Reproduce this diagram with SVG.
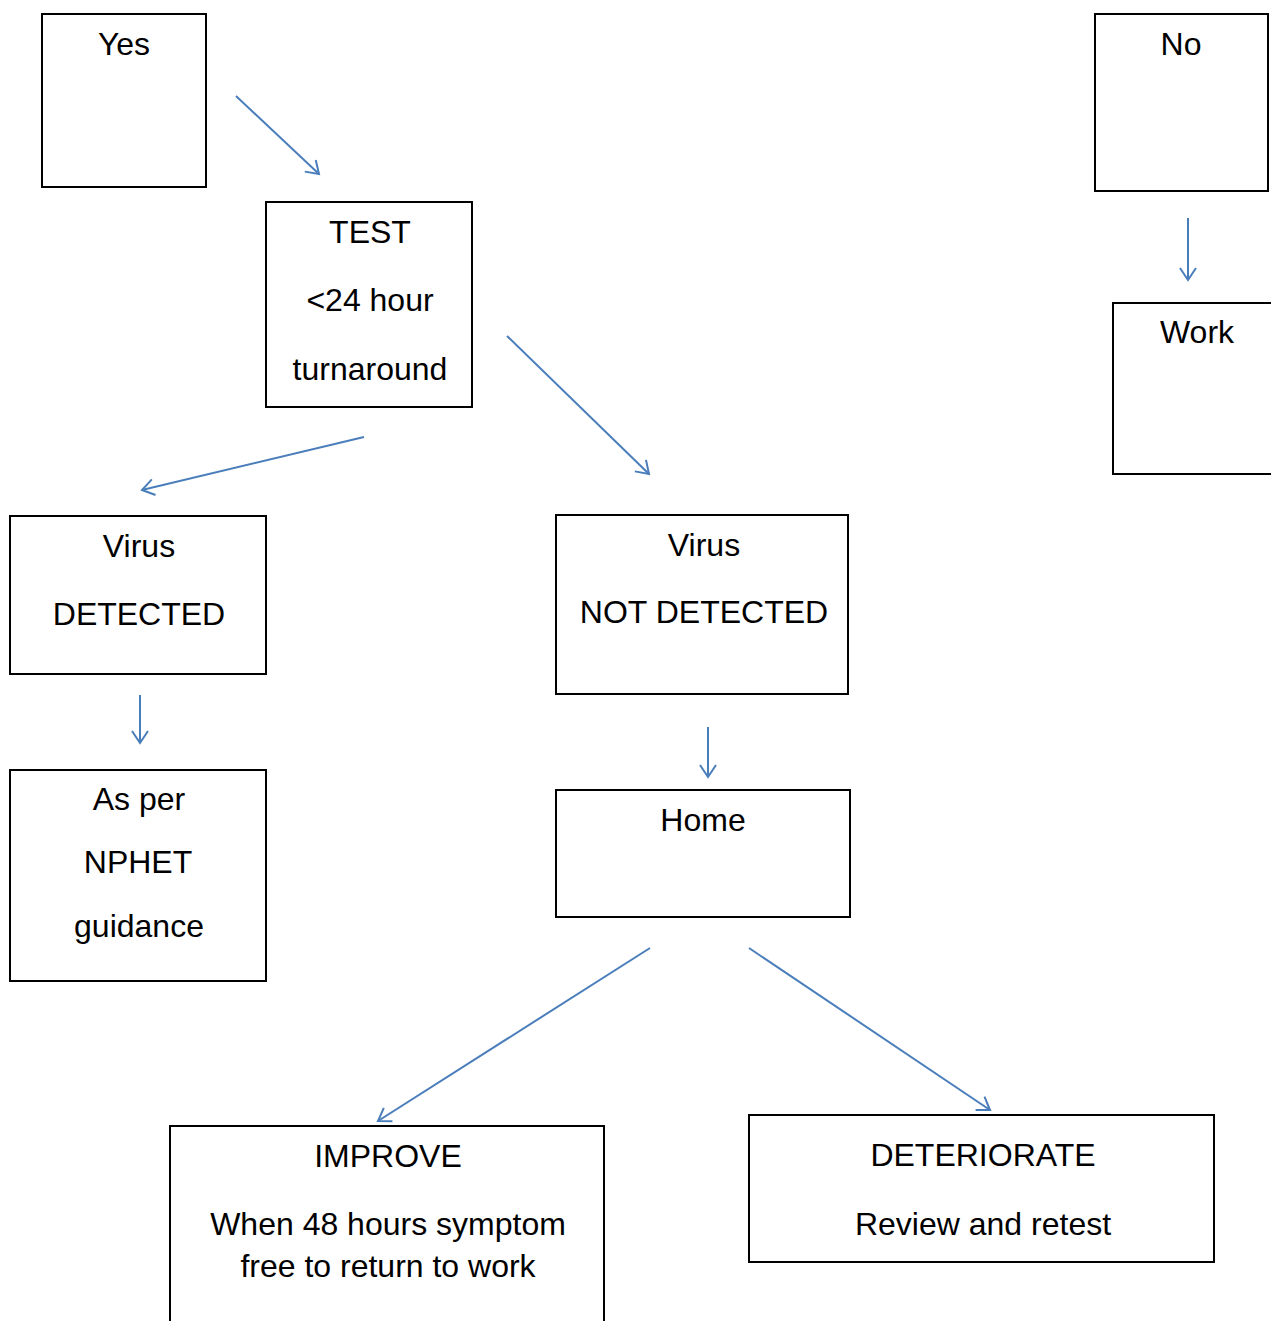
<svg xmlns="http://www.w3.org/2000/svg" width="1271" height="1321" viewBox="0 0 1271 1321">
<defs>
<style>
.box{fill:#fff;stroke:#000;stroke-width:2}
.t{font-family:"Liberation Sans",Arial,sans-serif;font-size:32px;fill:#000;text-anchor:middle}
.c{stroke:#4a7ebb;stroke-width:2;fill:none;marker-end:url(#ah)}
</style>
<marker id="ah" markerUnits="userSpaceOnUse" markerWidth="30" markerHeight="30" refX="20" refY="10" orient="auto" viewBox="0 0 30 20">
<path d="M8,2 L20,10 L8,18" fill="none" stroke="#4a7ebb" stroke-width="2"/>
</marker>
</defs>
<rect width="1271" height="1321" fill="#fff"/>
<g id="connectors">
<line class="c" x1="236" y1="96" x2="319" y2="174"/>
<line class="c" x1="1188" y1="218" x2="1188" y2="280"/>
<line class="c" x1="364" y1="437" x2="142" y2="490"/>
<line class="c" x1="507" y1="336" x2="649" y2="474"/>
<line class="c" x1="140" y1="695" x2="140" y2="743"/>
<line class="c" x1="708" y1="727" x2="708" y2="777"/>
<line class="c" x1="650" y1="948" x2="378" y2="1121"/>
<line class="c" x1="749" y1="948" x2="990" y2="1110"/>
</g>
<g id="yes"><rect class="box" x="42" y="14" width="164" height="173"/><text class="t" x="124" y="55">Yes</text></g>
<g id="no"><rect class="box" x="1095" y="14" width="173" height="177"/><text class="t" x="1181" y="55">No</text></g>
<g id="work"><rect class="box" x="1113" y="303" width="170" height="171"/><text class="t" x="1197" y="343">Work</text></g>
<g id="test"><rect class="box" x="266" y="202" width="206" height="205"/><text class="t" x="370" y="243">TEST</text><text class="t" x="370" y="311">&lt;24 hour</text><text class="t" x="370" y="380">turnaround</text></g>
<g id="detected"><rect class="box" x="10" y="516" width="256" height="158"/><text class="t" x="139" y="557">Virus</text><text class="t" x="139" y="625">DETECTED</text></g>
<g id="notdetected"><rect class="box" x="556" y="515" width="292" height="179"/><text class="t" x="704" y="556">Virus</text><text class="t" x="704" y="623">NOT DETECTED</text></g>
<g id="nphet"><rect class="box" x="10" y="770" width="256" height="211"/><text class="t" x="139" y="810">As per</text><text class="t" x="138" y="873">NPHET</text><text class="t" x="139" y="937">guidance</text></g>
<g id="home"><rect class="box" x="556" y="790" width="294" height="127"/><text class="t" x="703" y="831">Home</text></g>
<g id="improve"><rect class="box" x="170" y="1126" width="434" height="220"/><text class="t" x="388" y="1167">IMPROVE</text><text class="t" x="388" y="1235">When 48 hours symptom</text><text class="t" x="388" y="1277">free to return to work</text></g>
<g id="deteriorate"><rect class="box" x="749" y="1115" width="465" height="147"/><text class="t" x="983" y="1166">DETERIORATE</text><text class="t" x="983" y="1235">Review and retest</text></g>
</svg>
